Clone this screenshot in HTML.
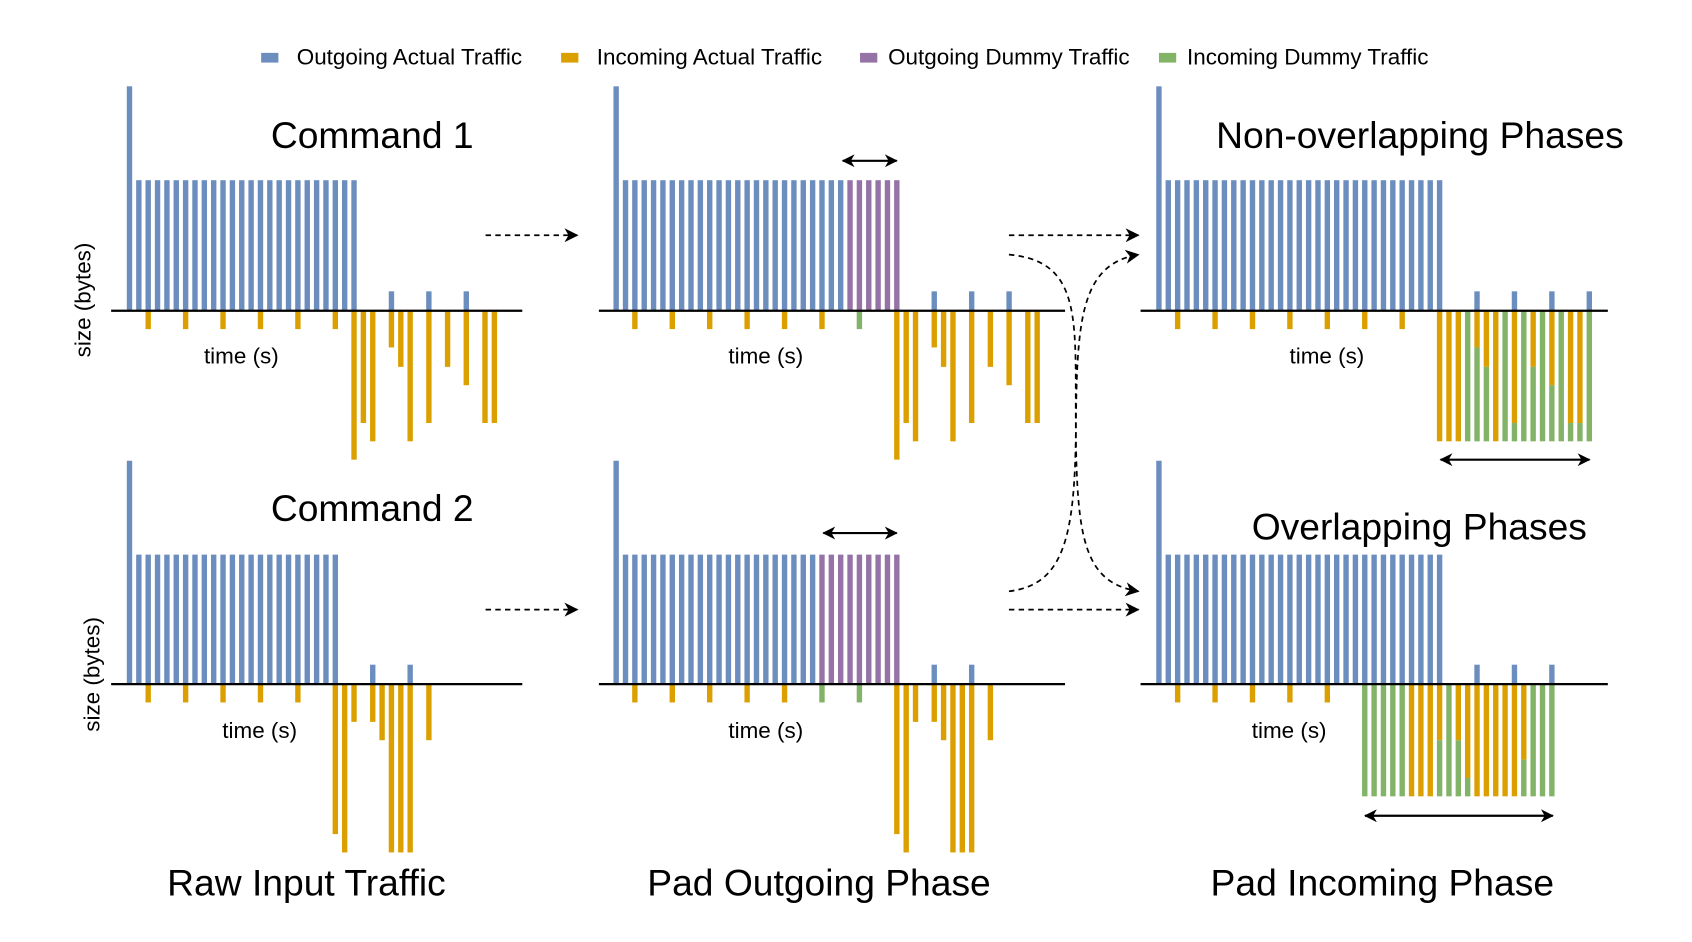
<!DOCTYPE html>
<html><head><meta charset="utf-8"><style>
html,body{margin:0;padding:0;background:#fff;}
svg{display:block;}
text{font-family:"Liberation Sans",Arial,sans-serif;fill:#000;}
</style></head><body>
<svg id="s" width="1692" height="942" viewBox="0 0 1568 873" preserveAspectRatio="none" xmlns="http://www.w3.org/2000/svg">
<defs>
<marker id="ah" viewBox="0 0 12 12" refX="11" refY="6" markerWidth="12" markerHeight="12" markerUnits="userSpaceOnUse" orient="auto-start-reverse">
<path d="M0,0 L12,6 L0,12 L3.5,6 Z" fill="#000"/>
</marker>
<marker id="ah2" viewBox="0 0 12 12" refX="11" refY="6" markerWidth="13" markerHeight="13" markerUnits="userSpaceOnUse" orient="auto-start-reverse">
<path d="M0,0 L12,6 L0,12 L3.5,6 Z" fill="#000"/>
</marker>
</defs>
<g id="bars"></g>
<g stroke="#000" stroke-width="2">
<line x1="103" y1="288" x2="484" y2="288"/>
<line x1="555" y1="288" x2="987" y2="288"/>
<line x1="1057" y1="288" x2="1490" y2="288"/>
<line x1="103" y1="634" x2="484" y2="634"/>
<line x1="555" y1="634" x2="987" y2="634"/>
<line x1="1057" y1="634" x2="1490" y2="634"/>
</g>
<g stroke="#000" stroke-width="2" fill="none">
<line x1="781" y1="149" x2="831" y2="149" marker-start="url(#ah)" marker-end="url(#ah)"/>
<line x1="763" y1="494" x2="831" y2="494" marker-start="url(#ah)" marker-end="url(#ah)"/>
<line x1="1335" y1="426" x2="1473" y2="426" marker-start="url(#ah)" marker-end="url(#ah)"/>
<line x1="1265" y1="756" x2="1439" y2="756" marker-start="url(#ah)" marker-end="url(#ah)"/>
</g>
<g stroke="#000" stroke-width="1.6" fill="none" stroke-dasharray="5,4">
<path d="M450,218 L535,218" marker-end="url(#ah2)"/>
<path d="M450,565 L535,565" marker-end="url(#ah2)"/>
<path d="M935,218 L1055,218" marker-end="url(#ah2)"/>
<path d="M935,565 L1055,565" marker-end="url(#ah2)"/>
<path d="M935,236 C1005,242 996,300 997,400 C998,500 1005,540 1055,548" marker-end="url(#ah2)"/>
<path d="M935,548 C985,542 996,500 997,400 C998,300 1000,245 1055,236" marker-end="url(#ah2)"/>
</g>
<rect x="242" y="49" width="16" height="9" fill="#6c8ebf"/>
<text x="275" y="60" font-size="20.8">Outgoing Actual Traffic</text>
<rect x="520" y="49" width="16" height="9" fill="#dba000"/>
<text x="553" y="60" font-size="20.8">Incoming Actual Traffic</text>
<rect x="797" y="49" width="16" height="9" fill="#9673a6"/>
<text x="823" y="60" font-size="20.8">Outgoing Dummy Traffic</text>
<rect x="1074" y="49" width="16" height="9" fill="#82b366"/>
<text x="1100" y="60" font-size="20.8">Incoming Dummy Traffic</text>
<text x="251" y="137" font-size="34.5">Command 1</text>
<text x="251" y="483" font-size="34.5">Command 2</text>
<text x="1127" y="137" font-size="34.5">Non-overlapping Phases</text>
<text x="1160" y="500" font-size="34.5">Overlapping Phases</text>
<text x="284" y="830" font-size="34.5" text-anchor="middle">Raw Input Traffic</text>
<text x="759" y="830" font-size="34.5" text-anchor="middle">Pad Outgoing Phase</text>
<text x="1281" y="830" font-size="34.5" text-anchor="middle">Pad Incoming Phase</text>
<g font-size="20.8">
<text x="189" y="337">time (s)</text>
<text x="675" y="337">time (s)</text>
<text x="1195" y="337">time (s)</text>
<text x="206" y="684">time (s)</text>
<text x="675" y="684">time (s)</text>
<text x="1160" y="684">time (s)</text>
<text transform="translate(84,278) rotate(-90)" text-anchor="middle">size (bytes)</text>
<text transform="translate(92,625) rotate(-90)" text-anchor="middle">size (bytes)</text>
</g>
</svg>
<script>
(function(){
var B="#6c8ebf",O="#dba000",P="#9673a6",G="#82b366";
var g=document.getElementById('bars');var ns="http://www.w3.org/2000/svg";
var W=5,S=8.67;
function r(x,y1,y2,c){var e=document.createElementNS(ns,'rect');e.setAttribute('x',(x-W/2).toFixed(2));e.setAttribute('y',Math.min(y1,y2));e.setAttribute('width',W);e.setAttribute('height',Math.abs(y2-y1));e.setAttribute('fill',c);g.appendChild(e);}
function panel(x0,base,top,tall,yoff,cfg){
  var X=function(i){return x0+S*i;};
  r(X(0),tall,base,B);
  for(var i=1;i<=cfg.blue;i++)r(X(i),top,base,B);
  if(cfg.purple)for(var i=cfg.purple[0];i<=cfg.purple[1];i++)r(X(i),top,base,P);
  cfg.small.forEach(function(i){r(X(i),base,base+17,O);});
  (cfg.gsmall||[]).forEach(function(i){r(X(i),base,base+17,G);});
  (cfg.bsmall||[]).forEach(function(i){r(X(i),base-18,base,B);});
  (cfg.big||[]).forEach(function(a){r(X(a[0]),base,a[1],O);});
  (cfg.mix||[]).forEach(function(a){var i=a[0],split=a[1],end=a[2];
    if(split>base)r(X(i),base,split,O);
    if(split<end)r(X(i),Math.max(split,base),end,G);});
}
var big1=[[24,426],[25,392],[26,409],[28,322],[29,340],[30,409],[32,392],[34,340],[36,357],[38,392],[39,392]];
panel(120,288,167,80,0,{blue:24,small:[2,6,10,14,18,22],bsmall:[28,32,36],big:big1});
panel(571,288,167,80,0,{blue:24,purple:[25,30],small:[2,6,10,14,18,22],gsmall:[26],bsmall:[34,38,42],
 big:big1.map(function(a){return [a[0]+6,a[1]];})});
var m3=[[30,409,409],[31,409,409],[32,409,409],[33,288,409],[34,322,409],[35,340,409],[36,409,409],[37,288,409],[38,392,409],[39,288,409],[40,340,409],[41,288,409],[42,357,409],[43,288,409],[44,392,409],[45,392,409],[46,288,409]];
panel(1074,288,167,80,0,{blue:30,small:[2,6,10,14,18,22,26],bsmall:[34,38,42,46],mix:m3});
var big4=[[22,773],[23,790],[24,669],[26,669],[27,686],[28,790],[29,790],[30,790],[32,686]];
panel(120,634,514,427,0,{blue:22,small:[2,6,10,14,18],bsmall:[26,30],big:big4});
panel(571,634,514,427,0,{blue:21,purple:[22,30],small:[2,6,10,14,18],gsmall:[22,26],bsmall:[34,38],
 big:big4.map(function(a){return [a[0]+8,a[1]];})});
var E=738,b=634;
var m6=[[22,b,E],[23,b,E],[24,b,E],[25,b,E],[26,b,E],[27,E,E],[28,E,E],[29,E,E],[30,686,E],[31,b,E],[32,686,E],[33,721,E],[34,E,E],[35,E,E],[36,E,E],[37,E,E],[38,E,E],[39,704,E],[40,b,E],[41,b,E],[42,b,E]];
panel(1074,634,514,427,0,{blue:30,small:[2,6,10,14,18],bsmall:[34,38,42],mix:m6});
})();
</script>
</body></html>
